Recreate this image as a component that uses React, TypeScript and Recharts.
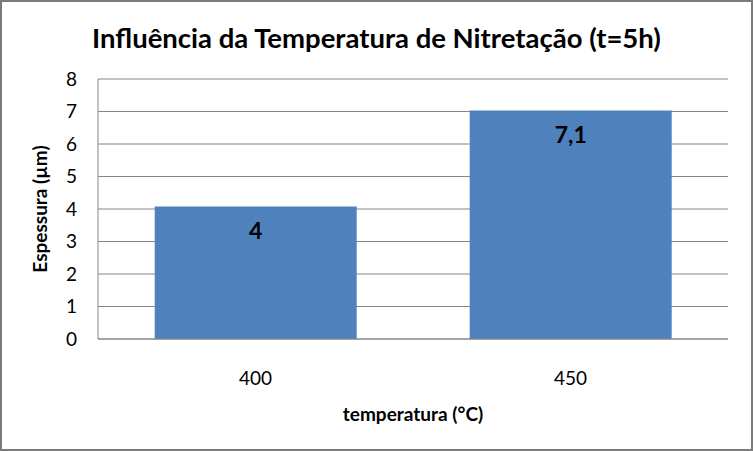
import { BarChart, Bar, XAxis, YAxis, CartesianGrid, LabelList } from "recharts";

const temperatures = ["400", "450"];
const thickness = [4.08, 7.03];
const valueLabels = ["4", "7,1"];
const yTicks = [0, 1, 2, 3, 4, 5, 6, 7, 8];

const data = temperatures.map((t, i) => ({ temp: t, value: thickness[i], label: valueLabels[i] }));

const FONT = "Lato, 'Open Sans', sans-serif";

export default function App() {
  return (
    <div style={{ position: "absolute", left: 0, top: 0, width: 753, height: 451, background: "#fff" }}>
      <div
        style={{
          position: "absolute",
          inset: 0,
          border: "2px solid #7a7a7a",
          boxSizing: "border-box",
          pointerEvents: "none",
          zIndex: 2,
        }}
      />
      <div
        style={{
          position: "absolute",
          top: 21,
          left: 0,
          width: 753,
          textAlign: "center",
          fontFamily: FONT,
          fontWeight: 700,
          fontSize: 27.5,
          color: "#000",
        }}
      >
        Influência da Temperatura de Nitretação (t=5h)
      </div>
      <BarChart
        width={753}
        height={451}
        data={data}
        margin={{ top: 79, right: 25, bottom: 30, left: 30 }}
        barCategoryGap="18%"
      >
        <CartesianGrid vertical={false} stroke="#868686" />
        <XAxis
          dataKey="temp"
          tickLine={false}
          axisLine={{ stroke: "#868686" }}
          tick={{ fontSize: 19, fill: "#000", fontFamily: FONT }}
          tickMargin={27}
          height={82}
          label={{
            value: "temperatura (°C)",
            position: "insideBottom",
            offset: 0,
            style: { fontFamily: FONT, fontWeight: 700, fontSize: 19, fill: "#000" },
          }}
        />
        <YAxis
          domain={[0, 8]}
          ticks={yTicks}
          interval={0}
          tickLine={false}
          axisLine={{ stroke: "#868686" }}
          width={68}
          tickMargin={15}
          tick={{ fontSize: 19, fill: "#000", fontFamily: FONT }}
          label={{
            value: "Espessura (µm)",
            angle: -90,
            position: "insideLeft",
            offset: 10,
            style: { textAnchor: "middle", fontFamily: FONT, fontWeight: 700, fontSize: 19, fill: "#000" },
          }}
        />
        <YAxis yAxisId="right" orientation="right" width={0} tick={false} tickLine={false} axisLine={{ stroke: "#868686" }} />
        <Bar dataKey="value" fill="#4F81BD" isAnimationActive={false}>
          <LabelList
            dataKey="label"
            position="insideTop"
            offset={16}
            style={{ fontFamily: FONT, fontWeight: 700, fontSize: 23, fill: "#000" }}
          />
        </Bar>
      </BarChart>
    </div>
  );
}
